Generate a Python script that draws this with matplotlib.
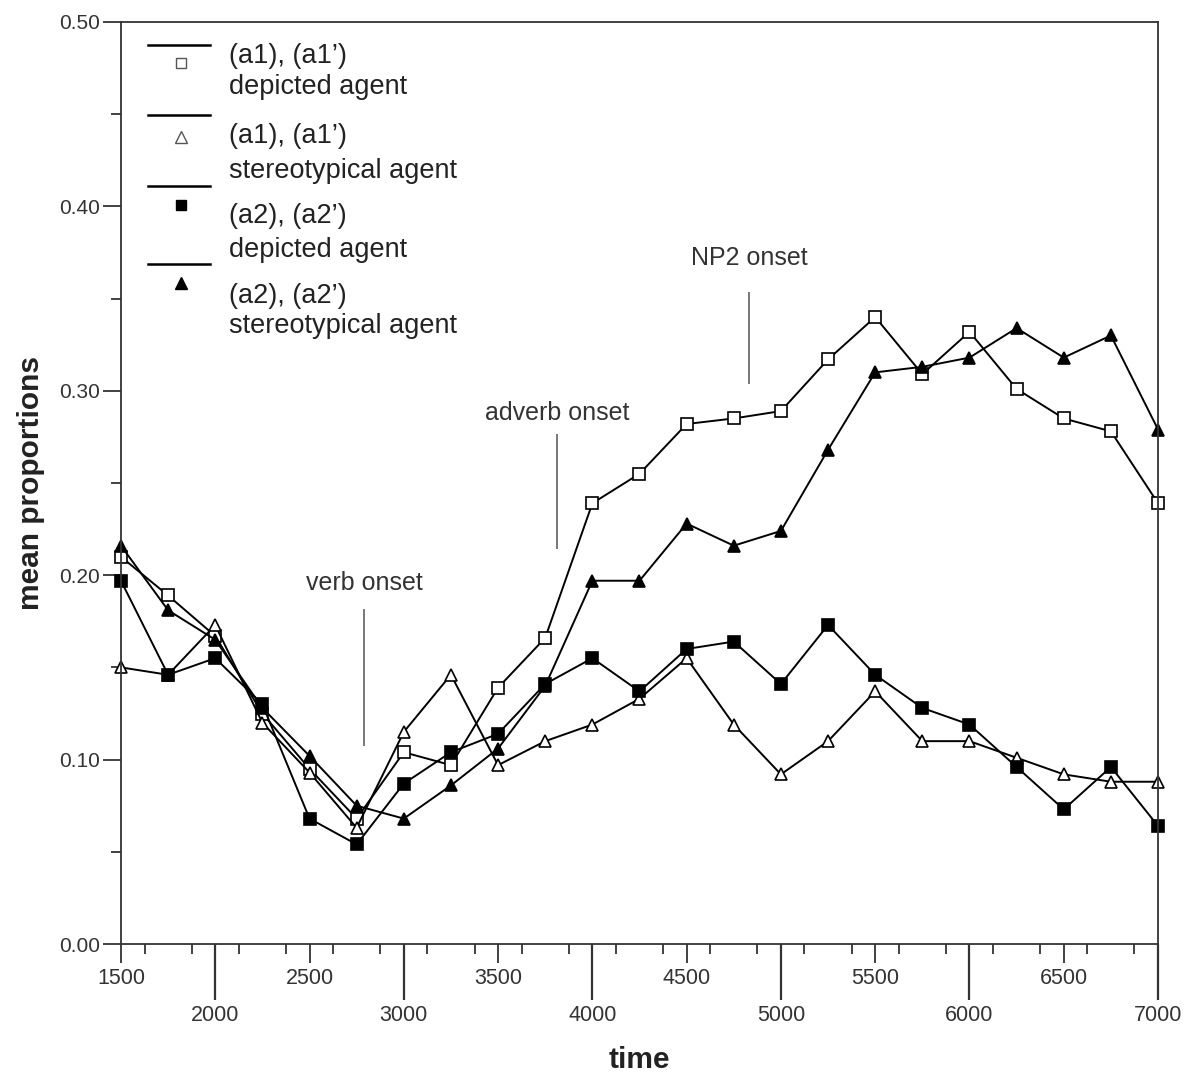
import matplotlib.pyplot as plt
import numpy as np

plt.rcParams['font.family'] = ['Liberation Sans', 'DejaVu Sans']

time = np.arange(1500, 7001, 250)

a1_depicted = [0.210, 0.189, 0.167, 0.125, 0.095, 0.068, 0.104, 0.097, 0.139, 0.166,
               0.239, 0.255, 0.282, 0.285, 0.289, 0.317, 0.340, 0.309, 0.332, 0.301,
               0.285, 0.278, 0.239]
a1_stereo = [0.150, 0.146, 0.173, 0.120, 0.093, 0.063, 0.115, 0.146, 0.097, 0.110,
             0.119, 0.133, 0.155, 0.119, 0.092, 0.110, 0.137, 0.110, 0.110, 0.101,
             0.092, 0.088, 0.088]
a2_depicted = [0.197, 0.146, 0.155, 0.130, 0.068, 0.054, 0.087, 0.104, 0.114, 0.141,
               0.155, 0.137, 0.160, 0.164, 0.141, 0.173, 0.146, 0.128, 0.119, 0.096,
               0.073, 0.096, 0.064]
a2_stereo = [0.216, 0.181, 0.165, 0.128, 0.102, 0.075, 0.068, 0.086, 0.106, 0.140,
             0.197, 0.197, 0.228, 0.216, 0.224, 0.268, 0.310, 0.313, 0.318, 0.334,
             0.318, 0.330, 0.279]

# onset markers: (label, time, line bottom, line top, text y)
onsets = [('verb onset', 2790, 0.108, 0.181, 0.196),
          ('adverb onset', 3812, 0.215, 0.276, 0.288),
          ('NP2 onset', 4831, 0.304, 0.353, 0.372)]

legend_rows = [('(a1), (a1’)', 'depicted agent'),
               ('(a1), (a1’)', 'stereotypical agent'),
               ('(a2), (a2’)', 'depicted agent'),
               ('(a2), (a2’)', 'stereotypical agent')]

fig = plt.figure(figsize=(11.87, 10.78), dpi=100)
ax = fig.add_axes([0.1019, 0.1243, 0.8737, 0.8553])

styles = [('s', 'white', 8), ('^', 'white', 9), ('s', 'black', 8), ('^', 'black', 9)]
series = [a1_depicted, a1_stereo, a2_depicted, a2_stereo]
for vals, (mk, fc, ms) in zip(series, styles):
    ax.plot(time, vals, color='black', lw=1.4, marker=mk, markerfacecolor=fc,
            markeredgecolor='black', markeredgewidth=1.2, markersize=ms, clip_on=False)

for name, t, y0, y1, ty in onsets:
    ax.plot([t, t], [y0, y1], color='#777777', lw=1.4)
    ax.text(t, ty, name, ha='center', va='center', fontsize=18, color='#333333')

ax.set_xlim(1500, 7000)
ax.set_ylim(0, 0.5)

# hand made legend
line_y = [0.975, 0.899, 0.822, 0.738]
mark_y = [0.956, 0.875, 0.802, 0.717]
text_y = [(0.963, 0.930), (0.876, 0.838), (0.790, 0.753), (0.703, 0.670)]
for i, (mk, fc, ms) in enumerate(styles):
    ax.plot([0.026, 0.086], [line_y[i], line_y[i]], color='black', lw=1.8,
            transform=ax.transAxes)
    ax.plot([0.058], [mark_y[i]], marker=mk, markerfacecolor=fc,
            markeredgecolor='black' if fc == 'black' else '#555555',
            markersize=ms - 1, markeredgewidth=1.0, transform=ax.transAxes)
    ax.text(0.104, text_y[i][0], legend_rows[i][0], transform=ax.transAxes,
            fontsize=19.5, va='center', ha='left', color='#222222')
    ax.text(0.104, text_y[i][1], legend_rows[i][1], transform=ax.transAxes,
            fontsize=19.5, va='center', ha='left', color='#222222')

# x ticks: long at thousands, medium at odd 500s, tiny ticks in between
ax.set_xticks(np.arange(2000, 7001, 1000))
ax.set_xticks(np.arange(1500, 7000, 1000), minor=True)
ax.set_xticklabels([str(v) for v in range(2000, 7001, 1000)])
ax.set_xticklabels([str(v) for v in range(1500, 7000, 1000)], minor=True)
ax.tick_params(axis='x', which='major', length=40, width=1.6, pad=4,
               labelsize=15.5, labelcolor='#333333', color='#333333')
ax.tick_params(axis='x', which='minor', length=14, width=1.3, pad=3,
               labelsize=15.5, labelcolor='#333333', color='#333333')

sec = ax.secondary_xaxis('bottom')
sec.set_xticks(np.arange(1625, 7000, 250))
sec.set_xticklabels([])
sec.tick_params(length=7, width=1.3, color='#333333')
sec.spines['bottom'].set_visible(False)

ax.set_yticks(np.arange(0, 0.51, 0.1))
ax.set_yticks(np.arange(0.05, 0.5, 0.1), minor=True)
ax.set_yticklabels(['%.2f' % v for v in np.arange(0, 0.51, 0.1)])
ax.tick_params(axis='y', which='major', length=13, width=1.3, pad=2,
               labelsize=15, labelcolor='#333333', color='#333333')
ax.tick_params(axis='y', which='minor', length=7, width=1.3, color='#333333')

for s in ax.spines.values():
    s.set_linewidth(1.3)
    s.set_color('#333333')

ax.set_xlabel('time', fontsize=21.5, fontweight='bold', labelpad=14, color='#222222')
ax.set_ylabel('mean proportions', fontsize=21.5, fontweight='bold', labelpad=10,
              color='#222222')

fig.savefig('out.png', dpi=100)
